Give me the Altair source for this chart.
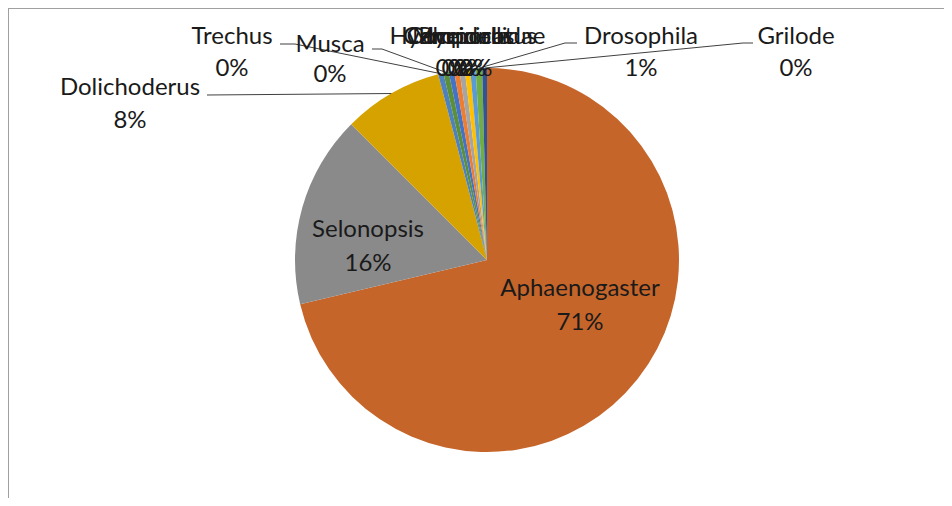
import altair as alt
import pandas as pd
import numpy as np

# ---------------- data ----------------
names = ["Aphaenogaster", "Selonopsis", "Dolichoderus", "Trechus", "Musca",
         "Hydroporus", "Myrmica", "Pheidole", "Camponotus", "Coccinellidae",
         "Drosophila", "Grilode"]
values = [71.3, 16.2, 8.4, 0.45, 0.45, 0.45, 0.45, 0.45, 0.45, 0.45, 0.55, 0.40]
colors = ["#C6652A", "#8A8A8A", "#D5A200", "#4F81BD", "#5B8F3A",
          "#4472C4", "#ED7D31", "#A5A5A5", "#FFC000", "#5B9BD5",
          "#70AD47", "#2F5597"]

# ---------------- layout (view pixel coords) ----------------
W, H = 936, 490
CX, CY, R = 479, 252, 192
FONT = "Lato"
FS = 24
# label centre x, name-line y, percent-line y
label_x = [572, 360, 122, 224, 322, 444, 450, 456, 462, 468, 633, 788]
label_y = [281, 222, 80, 29, 37, 29, 29, 29, 29, 29, 29, 29]
pct_y = [315, 256, 113, 61, 67, 61, 61, 61, 61, 61, 61, 61]
# leader lines: label end point and elbow point (arc end computed from data)
leaders = {
    "Dolichoderus": [(199, 87), (199, 87)],
    "Trechus": [(272, 36), (287, 36)],
    "Musca": [(364, 41), (374, 41)],
    "Drosophila": [(569, 35), (557, 35)],
    "Grilode": [(745, 35), (735, 35)],
}

df = pd.DataFrame({"name": names, "value": values, "idx": range(len(names))})
total = df["value"].sum()
df["pct"] = [f"{int(np.floor(v / total * 100 + 0.5))}%" for v in df["value"]]
df["lx"] = label_x
df["ly"] = label_y
df["py"] = pct_y

# leader line points from slice mid angles
cum = df["value"].cumsum() - df["value"] / 2
mid = cum / total * 2 * np.pi
rows = []
for i, n in enumerate(names):
    if n in leaders:
        (x0, y0), (x1, y1) = leaders[n]
        ax = CX + R * np.sin(mid[i])
        ay = CY - R * np.cos(mid[i])
        rows += [{"name": n, "o": 0, "px": x0, "py": y0},
                 {"name": n, "o": 1, "px": x1, "py": y1},
                 {"name": n, "o": 2, "px": ax, "py": ay}]
lines_df = pd.DataFrame(rows)

pie = alt.Chart(df).mark_arc(outerRadius=R, stroke=None).encode(
    theta=alt.Theta("value:Q", stack=True),
    color=alt.Color("name:N", scale=alt.Scale(domain=names, range=colors), legend=None),
    order=alt.Order("idx:Q"),
    x=alt.value(CX),
    y=alt.value(CY),
)

lines = alt.Chart(lines_df).mark_line(color="#404040", strokeWidth=1).encode(
    x=alt.X("px:Q", scale=None),
    y=alt.Y("py:Q", scale=None),
    detail="name:N",
    order="o:Q",
)

name_txt = alt.Chart(df).mark_text(font=FONT, fontSize=FS, color="#1a1a1a",
                                    baseline="middle", align="center").encode(
    x=alt.X("lx:Q", scale=None),
    y=alt.Y("ly:Q", scale=None),
    text="name:N",
)
pct_txt = alt.Chart(df).mark_text(font=FONT, fontSize=FS, color="#1a1a1a",
                                   baseline="middle", align="center").encode(
    x=alt.X("lx:Q", scale=None),
    y=alt.Y("py:Q", scale=None),
    text="pct:N",
)

border_left = alt.Chart(df).mark_rule(color="#a0a0a0", strokeWidth=1).encode(
    x=alt.value(0.5), y=alt.value(0), y2=alt.value(H))
border_top = alt.Chart(df).mark_rule(color="#a0a0a0", strokeWidth=1).encode(
    x=alt.value(0), x2=alt.value(W), y=alt.value(0.5))

chart = alt.layer(pie, lines, name_txt, pct_txt, border_left, border_top).properties(
    width=W, height=H, padding=0,
    autosize=alt.AutoSizeParams(type="none"),
    background="white",
).configure_view(stroke=None)

chart.save("out.html", embed_options={"renderer": "svg", "actions": False})
